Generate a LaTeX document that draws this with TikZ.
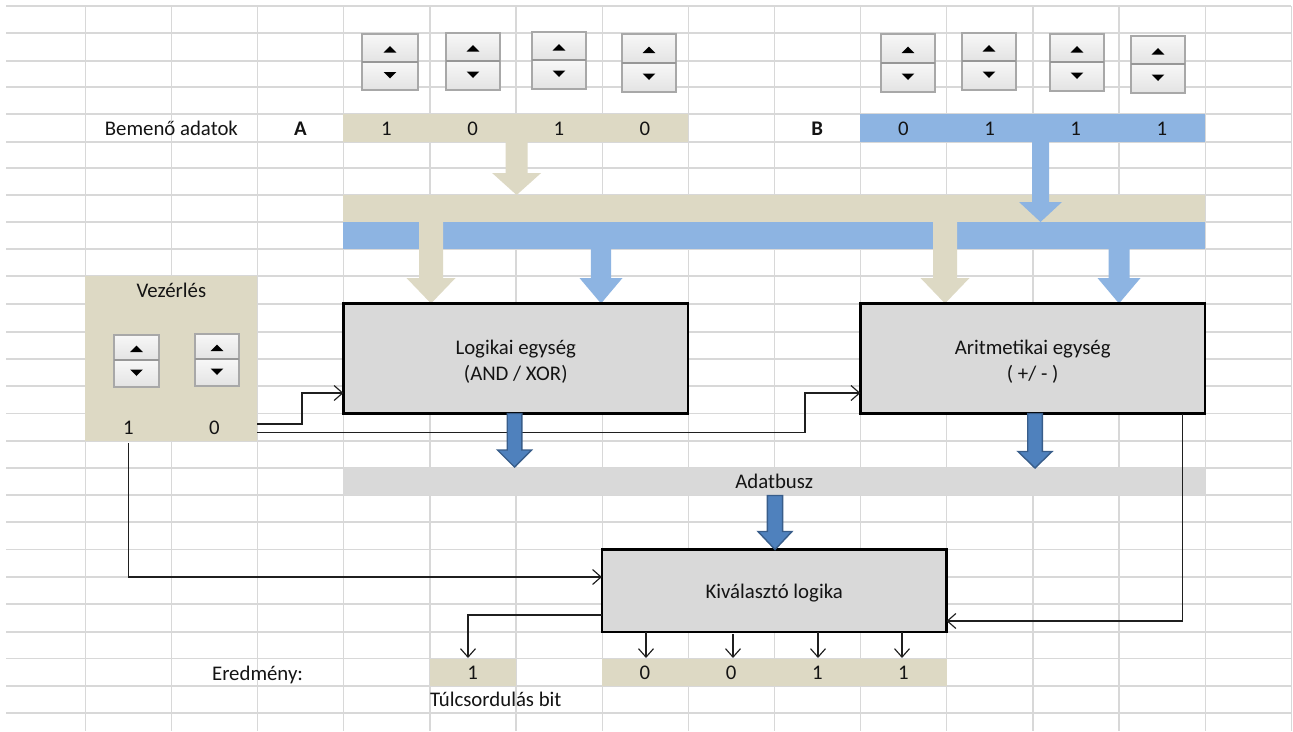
\documentclass[tikz,border=0pt]{standalone}
\usepackage{fontspec}
\setmainfont{Carlito}
\usetikzlibrary{arrows.meta,calc}
\definecolor{tanc}{HTML}{DDD9C4}
\definecolor{lblue}{HTML}{8DB4E2}
\definecolor{boxgray}{HTML}{D9D9D9}
\definecolor{gridc}{HTML}{D8D8D8}
\definecolor{dblue}{HTML}{4F81BD}
\definecolor{dblueb}{HTML}{385D8A}
\definecolor{spinb}{HTML}{A8A8A8}
\definecolor{txtc}{HTML}{141414}

% spinner: x1 y1 x2 y2 ymid
\newcommand\spinctl[5]{%
  \shade[top color=black!3, bottom color=black!11] (#1,#2) rectangle (#3,#5);
  \shade[top color=black!3, bottom color=black!11] (#1,#5) rectangle (#3,#4);
  \draw[spinb, line width=1.3pt] (#1,#2) rectangle (#3,#4);
  \draw[spinb!90!black, line width=1.6pt] (#1,#5) -- (#3,#5);
  \fill[black] ({(#1+#3)/2},{(#2+#5)/2-2}) -- ({(#1+#3)/2+6.3},{(#2+#5)/2+4.5}) -- ({(#1+#3)/2-6.3},{(#2+#5)/2+4.5}) -- cycle;
  \fill[black] ({(#1+#3)/2},{(#5+#4)/2+2.5}) -- ({(#1+#3)/2+6.3},{(#5+#4)/2-4}) -- ({(#1+#3)/2-6.3},{(#5+#4)/2-4}) -- cycle;
}
% block arrow: x ystart ybase ytip stemhalf headhalf style
\newcommand\blockarr[7]{%
  \filldraw[#7] ({#1-#5},#2) -- ({#1+#5},#2) -- ({#1+#5},#3) -- ({#1+#6},#3) -- (#1,#4) -- ({#1-#6},#3) -- ({#1-#5},#3) -- cycle;
}

\begin{document}
\begin{tikzpicture}[x=1pt,y=-1pt,
  every node/.style={font=\fontsize{20.8}{26}\selectfont, text=txtc, inner sep=0pt, outer sep=0pt},
  lbl/.style={anchor=base},
  unit/.style={draw=black, line width=2.6pt, fill=boxgray},
  ctrlbox/.style={fill=tanc},
  conn/.style={draw=black!88, line width=1.15pt, -{Straight Barb[length=8.5pt,width=15pt,line width=1.15pt]}},
  gridline/.style={draw=gridc, line width=1.3pt},
  tanarrow/.style={fill=tanc, draw=none},
  bluearrow/.style={fill=lblue, draw=none},
  darkarrow/.style={fill=dblue, draw=dblueb, line width=1.4pt, line join=miter},
]
\useasboundingbox (0,0) rectangle (1293,731);
\fill[white] (0,0) rectangle (1293,731);

% grid
\foreach \y in {6,33,61,87,114,142,168,195,222,249,276,304,332,359,386,413.5,441,468,495,522,549.5,577,604,632,658.5,686,713}
  \draw[gridline] (6,\y) -- (1291.1,\y);
\foreach \k in {0,...,14}
  \draw[gridline] ({85.3+86.15*\k},6) -- ({85.3+86.15*\k},731);

% spinners
\spinctl{362}{34}{418}{90}{62}
\spinctl{446}{33}{500}{90}{61}
\spinctl{532}{32}{586}{89}{60}
\spinctl{622}{34}{676}{92}{63}
\spinctl{881}{34}{935}{92}{63}
\spinctl{962}{33}{1016}{90}{61}
\spinctl{1050}{34}{1104}{91}{62}
\spinctl{1131}{36}{1185}{93}{64}

% input rows
\fill[tanc] (343.45,114) rectangle (688.05,142);
\fill[lblue] (860.35,114) rectangle (1204.95,142);
\node[lbl] (inlbl) at (171.4,135) {Bemenő adatok};
\node[lbl, font=\fontsize{20.8}{26}\selectfont\bfseries] (alabel) at (300.4,135) {A};
\node[lbl, font=\fontsize{20.8}{26}\selectfont\bfseries] (blabel) at (817.3,135) {B};
\node[lbl] (a1) at (386.5,135) {1};
\node[lbl] (a2) at (472.7,135) {0};
\node[lbl] (a3) at (558.8,135) {1};
\node[lbl] (a4) at (645.0,135) {0};
\node[lbl] (b1) at (903.4,135) {0};
\node[lbl] (b2) at (989.6,135) {1};
\node[lbl] (b3) at (1075.7,135) {1};
\node[lbl] (b4) at (1161.9,135) {1};

% buses
\fill[tanc] (343.45,195) rectangle (1204.95,222);
\fill[lblue] (343.45,222) rectangle (1204.95,249);
\blockarr{516.6}{142}{173}{195}{11}{24.5}{tanarrow}
\blockarr{1040.5}{142}{202}{222}{8.5}{21.5}{bluearrow}
\blockarr{431}{222}{278}{303.5}{12}{24.5}{tanarrow}
\blockarr{945}{222}{278}{303.5}{12}{24.5}{tanarrow}
\blockarr{601}{249}{278}{303.5}{10.2}{21.5}{bluearrow}
\blockarr{1119}{249}{278}{303.5}{10.5}{21.5}{bluearrow}

% control block
\node[ctrlbox, minimum width=172.15pt, minimum height=165pt] (vez) at (171.4,358.5) {};
\node[lbl] (veztxt) at (171.4,297.5) {Vezérlés};
\spinctl{114}{335}{159}{387}{360}
\spinctl{195}{334}{239}{386}{359}
\node[lbl] (vz1) at (128.4,434) {1};
\node[lbl] (vz0) at (214.5,434) {0};

% units
\node[unit, minimum width=344.6pt, minimum height=110pt] (logic) at (515.75,358.5) {};
\node[lbl] (logt1) at (515.75,354) {Logikai egység};
\node[lbl] (logt2) at (515.75,380) {(AND / XOR)};
\node[unit, minimum width=344.6pt, minimum height=110pt] (arith) at (1032.65,358.5) {};
\node[lbl] (art1) at (1032.65,354) {Aritmetikai egység};
\node[lbl] (art2) at (1032.65,380) {( +/ - )};

% data bus
\fill[boxgray] (343.45,468) rectangle (1204.95,495);
\node[lbl] (bustxt) at (774.2,488) {Adatbusz};

% selector
\node[unit, minimum width=344.6pt, minimum height=82.5pt] (select) at (774.2,590.75) {};
\node[lbl] (seltxt) at (774.2,598) {Kiválasztó logika};

% results
\fill[tanc] (429.6,658.5) rectangle (515.75,686);
\fill[tanc] (601.9,658.5) rectangle (946.5,686);
\node[lbl, anchor=base east] (eredm) at (303,680) {Eredmény:};
\node[lbl] (ov) at (472.7,679.5) {1};
\node[lbl] (r1) at (645.0,679.5) {0};
\node[lbl] (r2) at (731.1,679.5) {0};
\node[lbl] (r3) at (817.3,679.5) {1};
\node[lbl] (r4) at (903.4,679.5) {1};
\node[lbl, anchor=base west] (ovtxt) at (430,706.5) {Túlcsordulás bit};

% connectors
\draw[conn] (vez.east |- 0,424) -| (302,393) -- (logic.west |- 0,393);
\draw[conn] (vez.east |- 0,432.5) -| (805,393) -- (arith.west |- 0,393);
\draw[conn] (vz1 |- 0,443) |- (select.west |- 0,577);
\draw[conn] ([xshift=-22.5pt]arith.south east) |- (select.east |- 0,621);
\draw[conn] (select.west |- 0,615) -| (468,658);
\draw[conn] (select.south -| 646,0) -- (646,658);
\draw[conn] (733,634) -- (733,658);
\draw[conn] (select.south -| 818,0) -- (818,658);
\draw[conn] (select.south -| 902,0) -- (902,658);

% dark arrows
\blockarr{514.5}{413.5}{450}{467}{7.3}{17}{darkarrow}
\blockarr{1035}{413.5}{451.5}{468}{7.3}{17}{darkarrow}
\blockarr{775}{495.5}{531.5}{549.5}{7.6}{17}{darkarrow}
\end{tikzpicture}
\end{document}
